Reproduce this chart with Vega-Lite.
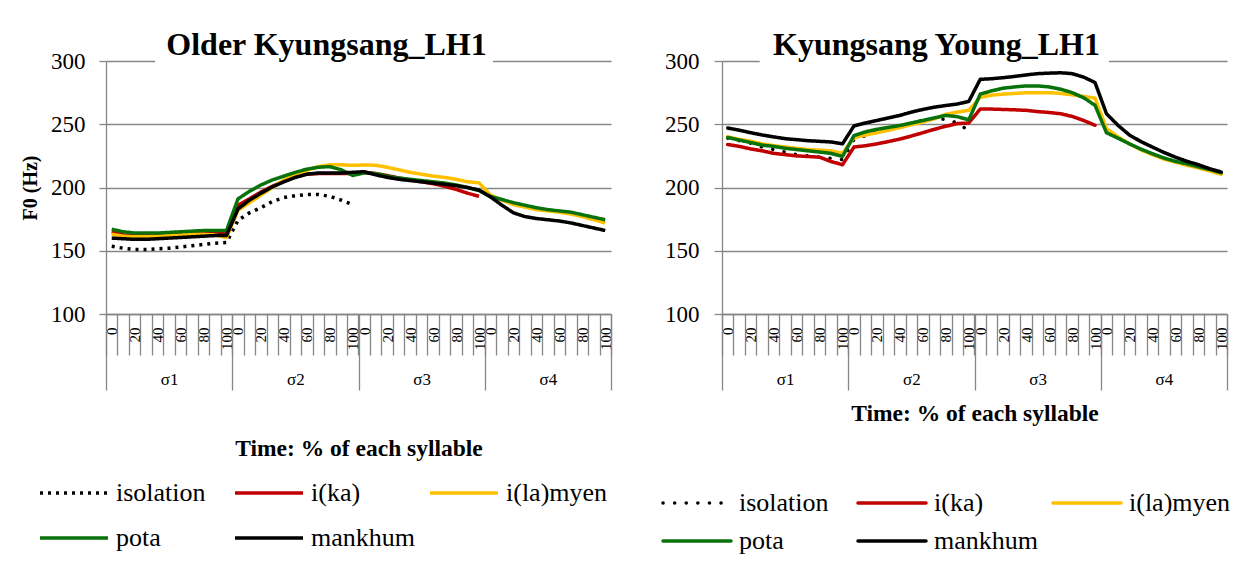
{
  "$schema": "https://vega.github.io/schema/vega-lite/v6.json",
  "padding": {"left": 20, "top": 29, "right": 0, "bottom": 0},
  "background": "white",
  "config": {
    "view": {"stroke": null},
    "font": "Liberation Serif",
    "axis": {"labelFont": "Liberation Serif", "titleFont": "Liberation Serif", "labelColor": "black", "titleColor": "black"}
  },
  "datasets": {
    "older": [
      {"k": "1:0", "isolation": 153.5, "i(ka)": 165, "i(la)myen": 163, "pota": 167, "mankhum": 160},
      {"k": "1:10", "isolation": 152, "i(ka)": 162.5, "i(la)myen": 161.5, "pota": 165, "mankhum": 159.5},
      {"k": "1:20", "isolation": 151, "i(ka)": 162, "i(la)myen": 161, "pota": 164, "mankhum": 159},
      {"k": "1:30", "isolation": 151, "i(ka)": 162, "i(la)myen": 161, "pota": 164, "mankhum": 159},
      {"k": "1:40", "isolation": 151.5, "i(ka)": 162, "i(la)myen": 161.5, "pota": 164, "mankhum": 159.5},
      {"k": "1:50", "isolation": 152, "i(ka)": 162.5, "i(la)myen": 162, "pota": 164.5, "mankhum": 160},
      {"k": "1:60", "isolation": 153, "i(ka)": 163, "i(la)myen": 162.5, "pota": 165, "mankhum": 160.5},
      {"k": "1:70", "isolation": 154, "i(ka)": 163.5, "i(la)myen": 163, "pota": 165.5, "mankhum": 161},
      {"k": "1:80", "isolation": 155, "i(ka)": 164, "i(la)myen": 163, "pota": 166, "mankhum": 161.5},
      {"k": "1:90", "isolation": 156, "i(ka)": 164, "i(la)myen": 162.5, "pota": 166, "mankhum": 162},
      {"k": "1:100", "isolation": 156.5, "i(ka)": 164, "i(la)myen": 160.5, "pota": 166, "mankhum": 162},
      {"k": "2:0", "isolation": 174, "i(ka)": 186, "i(la)myen": 182, "pota": 191, "mankhum": 183},
      {"k": "2:10", "isolation": 180, "i(ka)": 191, "i(la)myen": 188, "pota": 197, "mankhum": 190},
      {"k": "2:20", "isolation": 184, "i(ka)": 196.5, "i(la)myen": 194, "pota": 202, "mankhum": 195.5},
      {"k": "2:30", "isolation": 189, "i(ka)": 201, "i(la)myen": 200, "pota": 206, "mankhum": 200.5},
      {"k": "2:40", "isolation": 192, "i(ka)": 205, "i(la)myen": 206, "pota": 209, "mankhum": 204.5},
      {"k": "2:50", "isolation": 193.5, "i(ka)": 208.5, "i(la)myen": 210, "pota": 212, "mankhum": 208},
      {"k": "2:60", "isolation": 194.5, "i(ka)": 210.5, "i(la)myen": 213.5, "pota": 214.5, "mankhum": 210.5},
      {"k": "2:70", "isolation": 194.5, "i(ka)": 211, "i(la)myen": 216.5, "pota": 216, "mankhum": 211.5},
      {"k": "2:80", "isolation": 193, "i(ka)": 211, "i(la)myen": 218, "pota": 216.5, "mankhum": 211.5},
      {"k": "2:90", "isolation": 190, "i(ka)": 211, "i(la)myen": 218, "pota": 214, "mankhum": 211.5},
      {"k": "2:100", "isolation": 186.5, "i(ka)": 211, "i(la)myen": 217.5, "pota": 209.5, "mankhum": 212},
      {"k": "3:0", "i(ka)": 212, "i(la)myen": 217.8, "pota": 211.5, "mankhum": 212.5},
      {"k": "3:10", "i(ka)": 211, "i(la)myen": 217.6, "pota": 211, "mankhum": 210},
      {"k": "3:20", "i(ka)": 209.5, "i(la)myen": 216, "pota": 209, "mankhum": 208},
      {"k": "3:30", "i(ka)": 207.5, "i(la)myen": 214, "pota": 207.5, "mankhum": 206.5},
      {"k": "3:40", "i(ka)": 206, "i(la)myen": 212, "pota": 206.5, "mankhum": 205.5},
      {"k": "3:50", "i(ka)": 204.5, "i(la)myen": 210.5, "pota": 205.5, "mankhum": 204.5},
      {"k": "3:60", "i(ka)": 203, "i(la)myen": 209, "pota": 204.5, "mankhum": 203.5},
      {"k": "3:70", "i(ka)": 201, "i(la)myen": 208, "pota": 203.5, "mankhum": 202.5},
      {"k": "3:80", "i(ka)": 198.5, "i(la)myen": 206.5, "pota": 202, "mankhum": 201.5},
      {"k": "3:90", "i(ka)": 195.5, "i(la)myen": 204.5, "pota": 200, "mankhum": 200},
      {"k": "3:100", "i(ka)": 193, "i(la)myen": 203.7, "pota": 197.5, "mankhum": 198},
      {"k": "4:0", "i(la)myen": 194, "pota": 193, "mankhum": 192.5},
      {"k": "4:10", "i(la)myen": 190, "pota": 190.5, "mankhum": 186},
      {"k": "4:20", "i(la)myen": 186.5, "pota": 188, "mankhum": 180},
      {"k": "4:30", "i(la)myen": 184.5, "pota": 186, "mankhum": 177},
      {"k": "4:40", "i(la)myen": 182.5, "pota": 184, "mankhum": 175.5},
      {"k": "4:50", "i(la)myen": 181.5, "pota": 182.5, "mankhum": 174.5},
      {"k": "4:60", "i(la)myen": 180.5, "pota": 181.5, "mankhum": 173.5},
      {"k": "4:70", "i(la)myen": 179, "pota": 180.5, "mankhum": 172},
      {"k": "4:80", "i(la)myen": 177, "pota": 178.5, "mankhum": 170},
      {"k": "4:90", "i(la)myen": 174.5, "pota": 176.5, "mankhum": 168},
      {"k": "4:100", "i(la)myen": 172, "pota": 174.5, "mankhum": 166}
    ],
    "young": [
      {"k": "1:0", "isolation": 239, "i(ka)": 234, "i(la)myen": 240, "pota": 239.5, "mankhum": 247},
      {"k": "1:10", "isolation": 237, "i(ka)": 232.5, "i(la)myen": 238, "pota": 237.5, "mankhum": 245.3},
      {"k": "1:20", "isolation": 235, "i(ka)": 230.5, "i(la)myen": 236.5, "pota": 235.5, "mankhum": 243.3},
      {"k": "1:30", "isolation": 232, "i(ka)": 229, "i(la)myen": 234.5, "pota": 233.5, "mankhum": 241.5},
      {"k": "1:40", "isolation": 230, "i(ka)": 227, "i(la)myen": 233, "pota": 232.5, "mankhum": 240},
      {"k": "1:50", "isolation": 228, "i(ka)": 226, "i(la)myen": 232, "pota": 231, "mankhum": 238.6},
      {"k": "1:60", "isolation": 226, "i(ka)": 225, "i(la)myen": 231, "pota": 230, "mankhum": 237.8},
      {"k": "1:70", "isolation": 225, "i(ka)": 224.5, "i(la)myen": 230, "pota": 229, "mankhum": 237},
      {"k": "1:80", "isolation": 224, "i(ka)": 224, "i(la)myen": 229.5, "pota": 228, "mankhum": 236.5},
      {"k": "1:90", "isolation": 223, "i(ka)": 220.5, "i(la)myen": 229, "pota": 227, "mankhum": 236},
      {"k": "1:100", "isolation": 222, "i(ka)": 218, "i(la)myen": 227, "pota": 224.5, "mankhum": 234.5},
      {"k": "2:0", "isolation": 238, "i(ka)": 232, "i(la)myen": 239.4, "pota": 241, "mankhum": 248.7},
      {"k": "2:10", "isolation": 241, "i(ka)": 233, "i(la)myen": 241.5, "pota": 244, "mankhum": 251},
      {"k": "2:20", "isolation": 244, "i(ka)": 234.5, "i(la)myen": 243.3, "pota": 246, "mankhum": 253},
      {"k": "2:30", "isolation": 247, "i(ka)": 236.3, "i(la)myen": 245.3, "pota": 247.5, "mankhum": 255},
      {"k": "2:40", "isolation": 249, "i(ka)": 238.3, "i(la)myen": 247.4, "pota": 249, "mankhum": 257},
      {"k": "2:50", "isolation": 251, "i(ka)": 240.7, "i(la)myen": 249.7, "pota": 251, "mankhum": 259.6},
      {"k": "2:60", "isolation": 253, "i(ka)": 243.3, "i(la)myen": 251.8, "pota": 253, "mankhum": 261.7},
      {"k": "2:70", "isolation": 254, "i(ka)": 246, "i(la)myen": 254.4, "pota": 255, "mankhum": 263.5},
      {"k": "2:80", "isolation": 254, "i(ka)": 248.4, "i(la)myen": 257.8, "pota": 257, "mankhum": 264.8},
      {"k": "2:90", "isolation": 251, "i(ka)": 250.5, "i(la)myen": 259.6, "pota": 256, "mankhum": 266},
      {"k": "2:100", "isolation": 245, "i(ka)": 251, "i(la)myen": 261, "pota": 253.5, "mankhum": 268},
      {"k": "3:0", "i(ka)": 262, "i(la)myen": 271.2, "pota": 273.8, "mankhum": 285.5},
      {"k": "3:10", "i(ka)": 262, "i(la)myen": 273, "pota": 276.4, "mankhum": 286},
      {"k": "3:20", "i(ka)": 261.7, "i(la)myen": 273.8, "pota": 278.5, "mankhum": 286.8},
      {"k": "3:30", "i(ka)": 261.4, "i(la)myen": 274.4, "pota": 279.5, "mankhum": 287.8},
      {"k": "3:40", "i(ka)": 261, "i(la)myen": 274.9, "pota": 280.3, "mankhum": 289},
      {"k": "3:50", "i(ka)": 260, "i(la)myen": 275, "pota": 280.3, "mankhum": 290},
      {"k": "3:60", "i(ka)": 259.3, "i(la)myen": 275, "pota": 279.5, "mankhum": 290.4},
      {"k": "3:70", "i(ka)": 258.3, "i(la)myen": 274.4, "pota": 277.7, "mankhum": 290.7},
      {"k": "3:80", "i(ka)": 256.2, "i(la)myen": 273.3, "pota": 275, "mankhum": 290},
      {"k": "3:90", "i(ka)": 253, "i(la)myen": 272, "pota": 271, "mankhum": 287.3},
      {"k": "3:100", "i(ka)": 249.2, "i(la)myen": 270.7, "pota": 265, "mankhum": 283},
      {"k": "4:0", "i(la)myen": 246.6, "pota": 243.3, "mankhum": 258.3},
      {"k": "4:10", "i(la)myen": 240, "pota": 239, "mankhum": 249.2},
      {"k": "4:20", "i(la)myen": 234.5, "pota": 234.5, "mankhum": 241.5},
      {"k": "4:30", "i(la)myen": 229.8, "pota": 230.3, "mankhum": 236.3},
      {"k": "4:40", "i(la)myen": 225.9, "pota": 226.7, "mankhum": 232},
      {"k": "4:50", "i(la)myen": 222.5, "pota": 223.3, "mankhum": 227.7},
      {"k": "4:60", "i(la)myen": 220, "pota": 220.7, "mankhum": 224},
      {"k": "4:70", "i(la)myen": 217.6, "pota": 218.7, "mankhum": 220.7},
      {"k": "4:80", "i(la)myen": 215.5, "pota": 216.3, "mankhum": 218},
      {"k": "4:90", "i(la)myen": 213, "pota": 214.2, "mankhum": 214.8},
      {"k": "4:100", "i(la)myen": 210.4, "pota": 211.7, "mankhum": 212.2}
    ],
    "groups": [{"g": "σ1"}, {"g": "σ2"}, {"g": "σ3"}, {"g": "σ4"}]
  },
  "hconcat": [
    {
      "width": 505,
      "height": 253,
      "title": {"text": "Older Kyungsang_LH1", "font": "Liberation Serif", "fontSize": 32, "fontWeight": "bold", "anchor": "middle", "frame": "group", "dx": -32, "baseline": "alphabetic", "offset": -37, "color": "black"},
      "resolve": {"scale": {"x": "independent"}},
      "layer": [
        {
          "layer": [
            {
              "data": {"name": "older"},
              "transform": [{"fold": ["isolation", "i(ka)", "i(la)myen", "pota", "mankhum"], "as": ["series", "f0"]}],
              "mark": {"type": "line", "strokeWidth": 3.5, "strokeCap": "butt", "strokeJoin": "round"},
              "encoding": {
                "x": {"field": "k", "type": "nominal", "title": null,
                  "scale": {"type": "band", "paddingInner": 0, "paddingOuter": 0, "domain": ["1:0","1:10","1:20","1:30","1:40","1:50","1:60","1:70","1:80","1:90","1:100","2:0","2:10","2:20","2:30","2:40","2:50","2:60","2:70","2:80","2:90","2:100","3:0","3:10","3:20","3:30","3:40","3:50","3:60","3:70","3:80","3:90","3:100","4:0","4:10","4:20","4:30","4:40","4:50","4:60","4:70","4:80","4:90","4:100"]},
                  "axis": {"orient": "bottom", "title": null, "grid": false, "domainColor": "#868686", "domainWidth": 1.3, "tickColor": "#868686", "tickWidth": 1.3, "tickSize": 41, "tickBand": "extent", "labelAngle": -90, "labelAlign": "right", "labelBaseline": "middle", "labelFontSize": 15, "labelPadding": -28, "labelOverlap": false, "labelFlush": false,
                    "labelExpr": "indexof(['0','20','40','60','80','100'], split(datum.value, ':')[1]) >= 0 ? split(datum.value, ':')[1] : ''"}},
                "y": {"field": "f0", "type": "quantitative", "scale": {"domain": [100, 300], "nice": false, "zero": false},
                  "axis": {"values": [100, 150, 200, 250, 300], "title": "F0 (Hz)", "titleFontSize": 20, "titleFontWeight": "bold", "titlePadding": 10, "gridColor": "#868686", "gridWidth": 1.3, "domainColor": "#868686", "domainWidth": 1.3, "tickColor": "#868686", "tickWidth": 1.3, "tickSize": 7, "labelFontSize": 23, "labelPadding": 14}},
                "color": {"field": "series", "type": "nominal",
                  "scale": {"domain": ["isolation", "i(ka)", "i(la)myen", "pota", "mankhum"], "range": ["#000000", "#C00000", "#FFC000", "#0A720A", "#000000"]},
                  "legend": {"title": null, "orient": "none", "legendX": -68, "legendY": 417, "direction": "horizontal", "columns": 3, "symbolType": "stroke", "symbolSize": 4624, "symbolStrokeWidth": 3.5, "labelFont": "Liberation Serif", "labelFontSize": 26, "labelColor": "black", "labelOffset": 6, "gridAlign": "all", "columnPadding": 13, "rowPadding": 15, "clipHeight": 30, "padding": 0}},
                "strokeDash": {"field": "series", "type": "nominal",
                  "scale": {"domain": ["isolation", "i(ka)", "i(la)myen", "pota", "mankhum"], "range": [[3, 5], [1, 0], [1, 0], [1, 0], [1, 0]]},
                  "legend": {"title": null, "orient": "none", "legendX": -68, "legendY": 417, "direction": "horizontal", "columns": 3, "symbolType": "stroke", "symbolSize": 4624, "symbolStrokeWidth": 3.5, "labelFont": "Liberation Serif", "labelFontSize": 26, "labelColor": "black", "labelOffset": 6, "gridAlign": "all", "columnPadding": 13, "rowPadding": 15, "clipHeight": 30, "padding": 0}}
              }
            },
            {
              "data": {"values": [{"a": "1:40", "b": "4:0", "v": 300}]},
              "mark": {"type": "rule", "color": "white", "strokeWidth": 5, "strokeCap": "square"},
              "encoding": {
                "x": {"field": "a", "type": "nominal"},
                "x2": {"field": "b"},
                "y": {"field": "v", "type": "quantitative"}
              }
            }
          ]
        },
        {
          "data": {"name": "groups"},
          "mark": {"type": "rule", "opacity": 0},
          "encoding": {
            "x": {"field": "g", "type": "nominal", "scale": {"type": "band", "paddingInner": 0, "paddingOuter": 0},
              "axis": {"orient": "bottom", "title": "Time: % of each syllable", "titleFontSize": 23.5, "titleFontWeight": "bold", "titlePadding": 46, "grid": false, "domain": false, "tickColor": "#868686", "tickWidth": 1.3, "tickSize": 76, "tickBand": "extent", "labelAngle": 0, "labelFontSize": 17, "labelPadding": -19, "labelBaseline": "top"}}
          }
        }
      ]
    },
    {
      "width": 505,
      "height": 253,
      "title": {"text": "Kyungsang Young_LH1", "font": "Liberation Serif", "fontSize": 32, "fontWeight": "bold", "anchor": "middle", "frame": "group", "dx": -38, "baseline": "alphabetic", "offset": -37, "color": "black"},
      "resolve": {"scale": {"x": "independent"}},
      "layer": [
        {
          "layer": [
            {
              "data": {"name": "young"},
              "transform": [{"fold": ["isolation", "i(ka)", "i(la)myen", "pota", "mankhum"], "as": ["series", "f0"]}],
              "mark": {"type": "line", "strokeWidth": 3.5, "strokeCap": "round", "strokeJoin": "round"},
              "encoding": {
                "x": {"field": "k", "type": "nominal", "title": null,
                  "scale": {"type": "band", "paddingInner": 0, "paddingOuter": 0, "domain": ["1:0","1:10","1:20","1:30","1:40","1:50","1:60","1:70","1:80","1:90","1:100","2:0","2:10","2:20","2:30","2:40","2:50","2:60","2:70","2:80","2:90","2:100","3:0","3:10","3:20","3:30","3:40","3:50","3:60","3:70","3:80","3:90","3:100","4:0","4:10","4:20","4:30","4:40","4:50","4:60","4:70","4:80","4:90","4:100"]},
                  "axis": {"orient": "bottom", "title": null, "grid": false, "domainColor": "#868686", "domainWidth": 1.3, "tickColor": "#868686", "tickWidth": 1.3, "tickSize": 41, "tickBand": "extent", "labelAngle": -90, "labelAlign": "right", "labelBaseline": "middle", "labelFontSize": 15, "labelPadding": -28, "labelOverlap": false, "labelFlush": false,
                    "labelExpr": "indexof(['0','20','40','60','80','100'], split(datum.value, ':')[1]) >= 0 ? split(datum.value, ':')[1] : ''"}},
                "y": {"field": "f0", "type": "quantitative", "scale": {"domain": [100, 300], "nice": false, "zero": false},
                  "axis": {"values": [100, 150, 200, 250, 300], "title": null, "gridColor": "#868686", "gridWidth": 1.3, "domainColor": "#868686", "domainWidth": 1.3, "tickColor": "#868686", "tickWidth": 1.3, "tickSize": 8, "labelFontSize": 23, "labelPadding": 15}},
                "color": {"field": "series", "type": "nominal",
                  "scale": {"domain": ["isolation", "i(ka)", "i(la)myen", "pota", "mankhum"], "range": ["#000000", "#C00000", "#FFC000", "#0A720A", "#000000"]},
                  "legend": {"title": null, "orient": "none", "legendX": -61, "legendY": 427, "direction": "horizontal", "columns": 3, "symbolType": "stroke", "symbolSize": 4624, "symbolStrokeWidth": 3.5, "labelFont": "Liberation Serif", "labelFontSize": 26, "labelColor": "black", "labelOffset": 6, "gridAlign": "all", "columnPadding": 13, "rowPadding": 8, "clipHeight": 30, "padding": 0,
                    "encode": {"symbols": {"update": {"strokeCap": {"value": "round"}}}}}},
                "strokeDash": {"field": "series", "type": "nominal",
                  "scale": {"domain": ["isolation", "i(ka)", "i(la)myen", "pota", "mankhum"], "range": [[0.1, 11.5], [1, 0], [1, 0], [1, 0], [1, 0]]},
                  "legend": {"title": null, "orient": "none", "legendX": -61, "legendY": 427, "direction": "horizontal", "columns": 3, "symbolType": "stroke", "symbolSize": 4624, "symbolStrokeWidth": 3.5, "labelFont": "Liberation Serif", "labelFontSize": 26, "labelColor": "black", "labelOffset": 6, "gridAlign": "all", "columnPadding": 13, "rowPadding": 8, "clipHeight": 30, "padding": 0,
                    "encode": {"symbols": {"update": {"strokeCap": {"value": "round"}}}}}}
              }
            },
            {
              "data": {"values": [{"a": "1:30", "b": "4:0", "v": 300}]},
              "mark": {"type": "rule", "color": "white", "strokeWidth": 5, "strokeCap": "square"},
              "encoding": {
                "x": {"field": "a", "type": "nominal"},
                "x2": {"field": "b"},
                "y": {"field": "v", "type": "quantitative"}
              }
            }
          ]
        },
        {
          "data": {"name": "groups"},
          "mark": {"type": "rule", "opacity": 0},
          "encoding": {
            "x": {"field": "g", "type": "nominal", "scale": {"type": "band", "paddingInner": 0, "paddingOuter": 0},
              "axis": {"orient": "bottom", "title": "Time: % of each syllable", "titleFontSize": 23.5, "titleFontWeight": "bold", "titlePadding": 11, "grid": false, "domain": false, "tickColor": "#868686", "tickWidth": 1.3, "tickSize": 76, "tickBand": "extent", "labelAngle": 0, "labelFontSize": 17, "labelPadding": -19, "labelBaseline": "top"}}
          }
        }
      ]
    }
  ],
  "spacing": 47,
  "resolve": {"scale": {"color": "independent", "strokeDash": "independent", "x": "independent", "y": "independent"}, "legend": {"color": "independent", "strokeDash": "independent"}}
}
